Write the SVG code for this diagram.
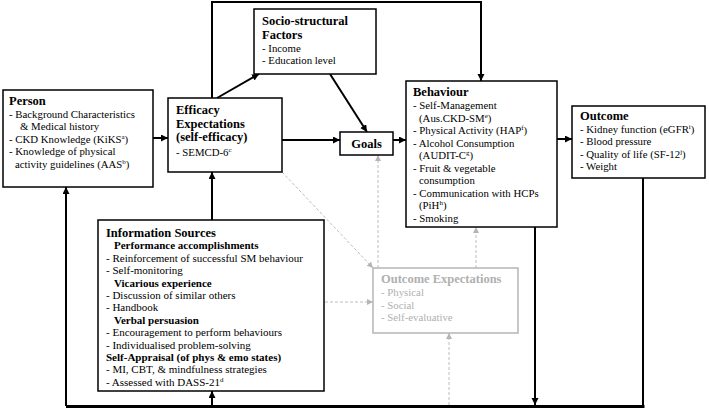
<svg xmlns="http://www.w3.org/2000/svg" width="709" height="409" viewBox="0 0 709 409" font-family="'Liberation Serif','Times New Roman',serif">
<style>
.box{fill:#fff;stroke:#000;stroke-width:1.5}
.gbox{fill:#fff;stroke:#b5b5b5;stroke-width:1.5}
text{font-family:"Liberation Serif","Times New Roman",serif;font-size:10.8px;fill:#000}
.h{font-weight:bold;font-size:12.5px}
.sh{font-weight:bold;font-size:11px}
.g{fill:#b0b0b0}
.sup{font-size:7px}
.c{stroke:#000;stroke-width:2;fill:none}
.cb{stroke:#000;stroke-width:3;fill:none}
.d{stroke:#bdbdbd;stroke-width:1;stroke-dasharray:3 2;fill:none}
</style>
<defs>
<marker id="ab" markerUnits="userSpaceOnUse" markerWidth="8" markerHeight="8" refX="7" refY="3.5" orient="auto"><path d="M0,0 L7,3.5 L0,7 z" fill="#000"/></marker>
<marker id="ag" markerUnits="userSpaceOnUse" markerWidth="7" markerHeight="7" refX="6" refY="3" orient="auto"><path d="M0,0 L6,3 L0,6 z" fill="#b5b5b5"/></marker>
</defs>
<rect width="709" height="409" fill="#fff"/>

<g id="connectors">
<path class="c" d="M153,138 H168" marker-end="url(#ab)"/>
<path class="c" d="M282,140 H340" marker-end="url(#ab)"/>
<path class="c" d="M393,140 H406" marker-end="url(#ab)"/>
<path class="c" d="M557,139 H572" marker-end="url(#ab)"/>
<path class="c" d="M217,98 L259,74" marker-end="url(#ab)"/>
<path class="c" d="M330,74 L367,132" marker-end="url(#ab)"/>
<path class="c" d="M212,98 V2 H481 V81" marker-end="url(#ab)"/>
<path class="c" d="M212,220 V172" marker-end="url(#ab)"/>
<path class="c" d="M643,178 V406"/>
<path class="cb" d="M66,406.5 H644.5"/>
<path class="c" d="M66,406 V187" marker-end="url(#ab)"/>
<path class="c" d="M212,406 V391" marker-end="url(#ab)"/>
<path class="c" d="M535,227 V405" marker-end="url(#ab)"/>
<path class="d" d="M282,172 L373,268" marker-end="url(#ag)"/>
<path class="d" d="M378,268 V155" marker-end="url(#ag)"/>
<path class="d" d="M325,302 H373" marker-end="url(#ag)"/>
<path class="d" d="M476,268 V227" marker-end="url(#ag)"/>
<path class="d" d="M449,405 V333" marker-end="url(#ag)"/>
</g>

<g id="person">
<rect class="box" x="3" y="90" width="150" height="97"/>
<text x="9" y="105" class="h">Person</text>
<text x="9" y="117.5">- Background Characteristics</text>
<text x="20" y="130">&amp; Medical history</text>
<text x="9" y="142.5">- CKD Knowledge (KiKS<tspan class="sup" dy="-4">a</tspan><tspan dy="4">)</tspan></text>
<text x="9" y="155">- Knowledge of physical</text>
<text x="15" y="167.5">activity guidelines (AAS<tspan class="sup" dy="-4">b</tspan><tspan dy="4">)</tspan></text>
</g>

<g id="efficacy">
<rect class="box" x="168" y="98" width="114" height="74"/>
<text x="176" y="114" class="h">Efficacy</text>
<text x="176" y="127.5" class="h">Expectations</text>
<text x="176" y="141" class="h">(self-efficacy)</text>
<text x="176" y="156">- SEMCD-6<tspan class="sup" dy="-4">c</tspan></text>
</g>

<g id="socio">
<rect class="box" x="254" y="9" width="122" height="65"/>
<text x="262" y="25" class="h">Socio-structural</text>
<text x="262" y="38.5" class="h">Factors</text>
<text x="262" y="51.5">- Income</text>
<text x="262" y="64">- Education level</text>
</g>

<g id="goals">
<rect class="box" x="340" y="132" width="53" height="23"/>
<text x="366.5" y="147.5" class="h" text-anchor="middle">Goals</text>
</g>

<g id="behaviour">
<rect class="box" x="406" y="81" width="151" height="146"/>
<text x="413" y="96" class="h">Behaviour</text>
<text x="413" y="109">- Self-Management</text>
<text x="419" y="121.5">(Aus.CKD-SM<tspan class="sup" dy="-4">e</tspan><tspan dy="4">)</tspan></text>
<text x="413" y="134">- Physical Activity (HAP<tspan class="sup" dy="-4">f</tspan><tspan dy="4">)</tspan></text>
<text x="413" y="146.5">- Alcohol Consumption</text>
<text x="419" y="159">(AUDIT-C<tspan class="sup" dy="-4">g</tspan><tspan dy="4">)</tspan></text>
<text x="413" y="171.5">- Fruit &amp; vegetable</text>
<text x="419" y="184">consumption</text>
<text x="413" y="196.5">- Communication with HCPs</text>
<text x="419" y="209">(PiH<tspan class="sup" dy="-4">h</tspan><tspan dy="4">)</tspan></text>
<text x="413" y="221.5">- Smoking</text>
</g>

<g id="outcome">
<rect class="box" x="572" y="106" width="133" height="72"/>
<text x="580" y="120" class="h">Outcome</text>
<text x="580" y="132.5">- Kidney function (eGFR<tspan class="sup" dy="-4">i</tspan><tspan dy="4">)</tspan></text>
<text x="580" y="145">- Blood pressure</text>
<text x="580" y="157.5">- Quality of life (SF-12<tspan class="sup" dy="-4">j</tspan><tspan dy="4">)</tspan></text>
<text x="580" y="170">- Weight</text>
</g>

<g id="information-sources">
<rect class="box" x="98" y="220" width="226" height="171"/>
<text x="106" y="237" class="h">Information Sources</text>
<text x="114" y="249.4" class="sh">Performance accomplishments</text>
<text x="106" y="261.8" style="font-size:11px">- Reinforcement of successful SM behaviour</text>
<text x="106" y="274.2" style="font-size:11px">- Self-monitoring</text>
<text x="114" y="286.6" class="sh">Vicarious experience</text>
<text x="106" y="299" style="font-size:11px">- Discussion of similar others</text>
<text x="106" y="311.4" style="font-size:11px">- Handbook</text>
<text x="114" y="323.8" class="sh">Verbal persuasion</text>
<text x="106" y="336.2" style="font-size:11px">- Encouragement to perform behaviours</text>
<text x="106" y="348.6" style="font-size:11px">- Individualised problem-solving</text>
<text x="106" y="361" class="sh">Self-Appraisal (of phys &amp; emo states)</text>
<text x="106" y="373.4" style="font-size:11px">- MI, CBT, &amp; mindfulness strategies</text>
<text x="106" y="385.8" style="font-size:11px">- Assessed with DASS-21<tspan class="sup" dy="-4">d</tspan></text>
</g>

<g id="outcome-expectations">
<rect class="gbox" x="373" y="268" width="145" height="65"/>
<text x="381" y="283" class="h g">Outcome Expectations</text>
<text x="381" y="296" class="g">- Physical</text>
<text x="381" y="308.5" class="g">- Social</text>
<text x="381" y="321" class="g">- Self-evaluative</text>
</g>
</svg>
